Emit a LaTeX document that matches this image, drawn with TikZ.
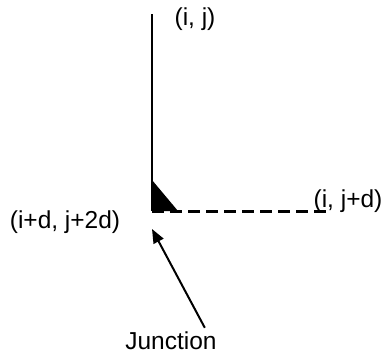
\documentclass[tikz,border=0pt]{standalone}
\usepackage{fontspec}
\setmainfont{Liberation Sans}
\usetikzlibrary{positioning, arrows.meta}

\begin{document}
\begin{tikzpicture}[
      x=1pt, y=1pt,
      every node/.style={font=\fontsize{24.5}{28}\selectfont, inner sep=0pt},
      gridline/.style={line width=2pt},
      pathdash/.style={line width=3pt, dash pattern=on 12pt off 6pt},
      pointer/.style={line width=2pt, -{Triangle[length=14pt, width=11pt]}},
    ]
    \useasboundingbox (0, 0) rectangle (388, 360);
    % end points of the two paths
    \coordinate (top) at (152, 346);
    \coordinate (corner) at (152, 149);
    \coordinate (far) at (328, 149);
    \coordinate (tip) at (152, 131);
    % corner labels
    \node (ij) at (195, 341) {(i, j)};
    \node (ijd) at (348, 159) {(i, j+d)};
    \node (idj) at (65, 138) {(i+d, j+2d)};
    \node (junc) at (171, 19) {Junction};
    \draw[gridline] (top) -- (corner);
    \draw[pathdash] (corner) -- (far);
    \fill (corner) -- (152, 180) -- (178, 149) -- cycle;
    % the pointer to the junction
    \draw[pointer] ([xshift=-12pt, yshift=4pt]junc.north east) -- (tip);
  \end{tikzpicture}
\end{document}
